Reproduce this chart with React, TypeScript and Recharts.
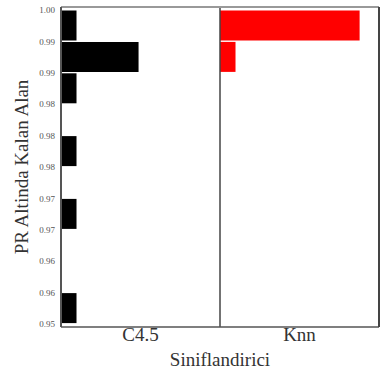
import React from 'react';
import {
  BarChart,
  Bar,
  XAxis,
  YAxis,
  ReferenceLine,
} from 'recharts';

// Histogram bins (lower edge, 0.005 wide), top to bottom
const BIN_LO = [0.995, 0.99, 0.985, 0.98, 0.975, 0.97, 0.965, 0.96, 0.955, 0.95];

// Fold counts per bin for each classifier
const C45_COUNTS = [1, 5, 1, 0, 1, 0, 1, 0, 0, 1];
const KNN_COUNTS = [9, 1, 0, 0, 0, 0, 0, 0, 0, 0];

const CLASSIFIERS = ['C4.5', 'Knn'];

const Y_TICKS = [1.0, 0.995, 0.99, 0.985, 0.98, 0.975, 0.97, 0.965, 0.96, 0.955, 0.95];
const Y_TICK_LABELS = ['1.00', '0.99', '0.99', '0.98', '0.98', '0.98', '0.97', '0.97', '0.96', '0.96', '0.95'];

// each classifier gets its own panel, PANEL count-units wide
const PANEL = 10.25;

const data = BIN_LO.map((lo, i) => ({
  bin: `${lo.toFixed(3)}`,
  lo,
  c45: C45_COUNTS[i] ? [0, C45_COUNTS[i]] : null,
  knn: KNN_COUNTS[i] ? [PANEL, PANEL + KNN_COUNTS[i]] : null,
}));

const FONT = '"Liberation Serif", "Times New Roman", serif';
const PAD = { top: 3, bottom: 3 };

const YTitle = ({ viewBox }: any) => {
  const cx = viewBox.x + 21;
  const cy = viewBox.y + viewBox.height / 2;
  return (
    <text
      x={cx}
      y={cy}
      dy="0.35em"
      transform={`rotate(-90, ${cx}, ${cy})`}
      textAnchor="middle"
      fill="#333"
      fontSize={19}
      fontFamily={FONT}
    >
      PR Altinda Kalan Alan
    </text>
  );
};

export default function App() {
  return (
    <div style={{ position: 'fixed', left: 0, top: 0, background: '#fff' }}>
      <BarChart
        width={390}
        height={374}
        data={data}
        layout="vertical"
        barCategoryGap={0.5}
        margin={{ top: 6, right: 10, bottom: 0, left: 0 }}
        style={{ fontFamily: FONT }}
      >
        <XAxis
          type="number"
          domain={[0, PANEL * 2]}
          ticks={[PANEL / 2, PANEL * 1.5]}
          tickFormatter={(_v, i) => CLASSIFIERS[i]}
          allowDataOverflow
          height={47}
          tickLine={false}
          tickSize={0}
          tickMargin={1}
          axisLine={{ stroke: '#555', strokeWidth: 1.5 }}
          tick={{ fill: '#333', fontSize: 19, fontFamily: FONT }}
          label={{
            value: 'Siniflandirici',
            position: 'insideBottom',
            offset: 8,
            fill: '#333',
            fontSize: 19,
            fontFamily: FONT,
          }}
        />
        <XAxis
          xAxisId="top"
          orientation="top"
          type="number"
          domain={[0, PANEL * 2]}
          allowDataOverflow
          height={1}
          tick={false}
          tickLine={false}
          axisLine={{ stroke: '#999', strokeWidth: 2 }}
        />
        <YAxis yAxisId="binA" type="category" dataKey="bin" hide width={0} padding={PAD} />
        <YAxis yAxisId="binB" type="category" dataKey="bin" hide width={0} padding={PAD} />
        <YAxis
          yAxisId="val"
          type="number"
          dataKey="lo"
          domain={[0.95, 1]}
          reversed
          ticks={Y_TICKS}
          tickFormatter={(v) => Y_TICK_LABELS[Y_TICKS.indexOf(v)]}
          allowDataOverflow
          interval={0}
          padding={PAD}
          width={61}
          tickLine={false}
          tickSize={4}
          tickMargin={2}
          axisLine={{ stroke: '#555', strokeWidth: 2 }}
          tick={{ fill: '#555', fontSize: 9, fontFamily: FONT }}
          label={{ content: YTitle }}
        />
        <YAxis
          yAxisId="right"
          orientation="right"
          type="number"
          dataKey="lo"
          domain={[0, 1]}
          width={1}
          tick={false}
          tickLine={false}
          axisLine={{ stroke: '#444', strokeWidth: 2 }}
        />
        <ReferenceLine yAxisId="val" x={PANEL} stroke="#444" strokeWidth={1.5} />
        <Bar yAxisId="binA" dataKey="c45" fill="#000000" isAnimationActive={false} />
        <Bar yAxisId="binB" dataKey="knn" fill="#ff0000" isAnimationActive={false} />
      </BarChart>
    </div>
  );
}
